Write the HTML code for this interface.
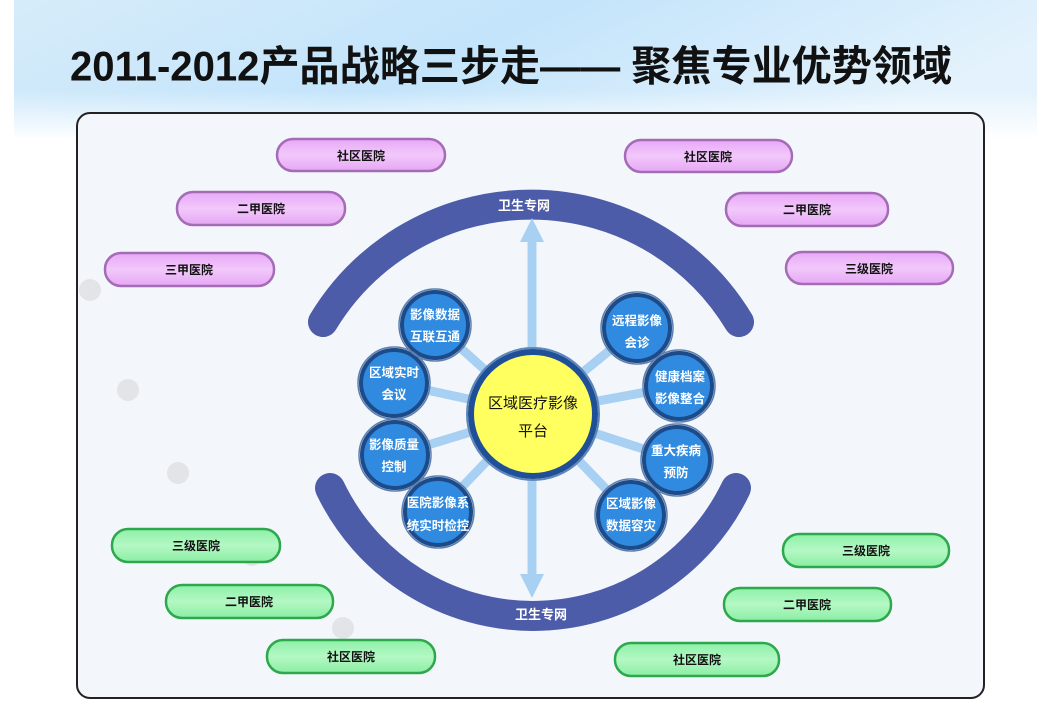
<!DOCTYPE html>
<html><head><meta charset="utf-8"><style>
html,body{margin:0;padding:0;width:1037px;height:716px;overflow:hidden;background:#fff}
svg text{font-family:"Liberation Sans","Noto Sans CJK SC",sans-serif}
</style></head><body>
<svg width="1037" height="716" viewBox="0 0 1037 716" xmlns="http://www.w3.org/2000/svg">
<defs>
<linearGradient id="hdr" x1="0" y1="0" x2="1" y2="0.3">
<stop offset="0" stop-color="#d6ecfa"/><stop offset="0.5" stop-color="#c3e4fb"/><stop offset="1" stop-color="#e3f2fc"/></linearGradient>
<linearGradient id="hb" x1="0" y1="0" x2="0" y2="1"><stop offset="0" stop-color="#ffffff" stop-opacity="0"/><stop offset="1" stop-color="#ffffff"/></linearGradient>
<linearGradient id="pu" x1="0" y1="0" x2="0" y2="1"><stop offset="0" stop-color="#e7a8f7"/><stop offset="0.5" stop-color="#f2c8fb"/><stop offset="1" stop-color="#e6a6f5"/></linearGradient>
<linearGradient id="gr" x1="0" y1="0" x2="0" y2="1"><stop offset="0" stop-color="#8ef0a8"/><stop offset="0.5" stop-color="#b4f8c4"/><stop offset="1" stop-color="#8aeea4"/></linearGradient>
</defs>
<rect x="14" y="0" width="1023" height="140" fill="url(#hdr)"/>
<rect x="14" y="90" width="1023" height="50" fill="url(#hb)"/>
<text x="70" y="70" transform="scale(1,1.15)" font-size="36" font-weight="bold" fill="#111" textLength="882" lengthAdjust="spacingAndGlyphs">2011-2012产品战略三步走—— 聚焦专业优势领域</text>
<rect x="77" y="113" width="907" height="585" rx="13" fill="#f3f7fc" stroke="#222" stroke-width="2"/>
<g fill="#e2e4e8"><circle cx="90" cy="290" r="11"/><circle cx="128" cy="390" r="11"/><circle cx="178" cy="473" r="11"/><circle cx="343" cy="628" r="11"/><circle cx="252" cy="555" r="11"/></g>
<g fill="none" stroke="#4c5ca8" stroke-width="30" stroke-linecap="round">
<path d="M323 322 A243 243 0 0 1 739 322"/>
<path d="M330 488 A225 225 0 0 0 736 488"/>
</g>
<text x="524" y="210" font-size="13" font-weight="bold" fill="#fff" text-anchor="middle">卫生专网</text>
<text x="541" y="619" font-size="13" font-weight="bold" fill="#fff" text-anchor="middle">卫生专网</text>
<g stroke="#a8d0f2" stroke-width="9">
<line x1="533" y1="413" x2="435" y2="325"/><line x1="533" y1="413" x2="394" y2="383"/>
<line x1="533" y1="413" x2="395" y2="455"/><line x1="533" y1="413" x2="438" y2="512"/>
<line x1="533" y1="413" x2="637" y2="328"/><line x1="533" y1="413" x2="679" y2="386"/>
<line x1="533" y1="413" x2="677" y2="460"/><line x1="533" y1="413" x2="631" y2="515"/>
<line x1="532" y1="413" x2="532" y2="238"/><line x1="532" y1="413" x2="532" y2="580"/>
</g>
<polygon points="532,218 520,242 544,242" fill="#a8d0f2"/>
<polygon points="532,598 520,574 544,574" fill="#a8d0f2"/>
<circle cx="533" cy="414" r="62" fill="#ffff60" stroke="#1f4f96" stroke-width="6"/>
<circle cx="533" cy="414" r="66" fill="none" stroke="#5f86b8" stroke-width="2"/>
<text x="533" y="408" font-size="15" fill="#111" text-anchor="middle">区域医疗影像</text>
<text x="533" y="436" font-size="15" fill="#111" text-anchor="middle">平台</text>
<g stroke="#1d4a88" stroke-width="4" fill="#2f8ae0">
<circle cx="435" cy="325" r="33"/><circle cx="394" cy="383" r="33"/><circle cx="395" cy="455" r="33"/><circle cx="438" cy="512" r="33"/>
<circle cx="637" cy="328" r="33"/><circle cx="679" cy="386" r="33"/><circle cx="677" cy="460" r="33"/><circle cx="631" cy="515" r="33"/>
</g>
<g fill="none" stroke="#5c7fae" stroke-width="1.5">
<circle cx="435" cy="325" r="36"/><circle cx="394" cy="383" r="36"/><circle cx="395" cy="455" r="36"/><circle cx="438" cy="512" r="36"/>
<circle cx="637" cy="328" r="36"/><circle cx="679" cy="386" r="36"/><circle cx="677" cy="460" r="36"/><circle cx="631" cy="515" r="36"/>
</g>
<g font-size="12.5" font-weight="bold" fill="#fff" text-anchor="middle">
<text x="435" y="319">影像数据</text><text x="435" y="341">互联互通</text>
<text x="394" y="377">区域实时</text><text x="394" y="399">会议</text>
<text x="394" y="449">影像质量</text><text x="394" y="471">控制</text>
<text x="438" y="507">医院影像系</text><text x="438" y="530">统实时检控</text>
<text x="637" y="325">远程影像</text><text x="637" y="347">会诊</text>
<text x="680" y="381">健康档案</text><text x="680" y="403">影像整合</text>
<text x="676" y="455">重大疾病</text><text x="676" y="477">预防</text>
<text x="631" y="508">区域影像</text><text x="631" y="530">数据容灾</text>
</g>
<g stroke="#a56cb6" stroke-width="2.5" fill="url(#pu)">
<rect x="277" y="139" width="168" height="32" rx="16"/><rect x="177" y="192" width="168" height="33" rx="16"/><rect x="105" y="253" width="169" height="33" rx="16"/>
<rect x="625" y="140" width="167" height="32" rx="16"/><rect x="726" y="193" width="162" height="33" rx="16"/><rect x="786" y="252" width="167" height="32" rx="16"/>
</g>
<g stroke="#2ea84c" stroke-width="2.5" fill="url(#gr)">
<rect x="112" y="529" width="168" height="33" rx="16"/><rect x="166" y="585" width="167" height="33" rx="16"/><rect x="267" y="640" width="168" height="33" rx="16"/>
<rect x="783" y="534" width="166" height="33" rx="16"/><rect x="724" y="588" width="167" height="33" rx="16"/><rect x="615" y="643" width="164" height="33" rx="16"/>
</g>
<g font-size="12" font-weight="bold" fill="#111" text-anchor="middle">
<text x="361" y="160">社区医院</text><text x="261" y="213">二甲医院</text><text x="189" y="274">三甲医院</text>
<text x="708" y="161">社区医院</text><text x="807" y="214">二甲医院</text><text x="869" y="273">三级医院</text>
<text x="196" y="550">三级医院</text><text x="249" y="606">二甲医院</text><text x="351" y="661">社区医院</text>
<text x="866" y="555">三级医院</text><text x="807" y="609">二甲医院</text><text x="697" y="664">社区医院</text>
</g>
</svg>
</body></html>
